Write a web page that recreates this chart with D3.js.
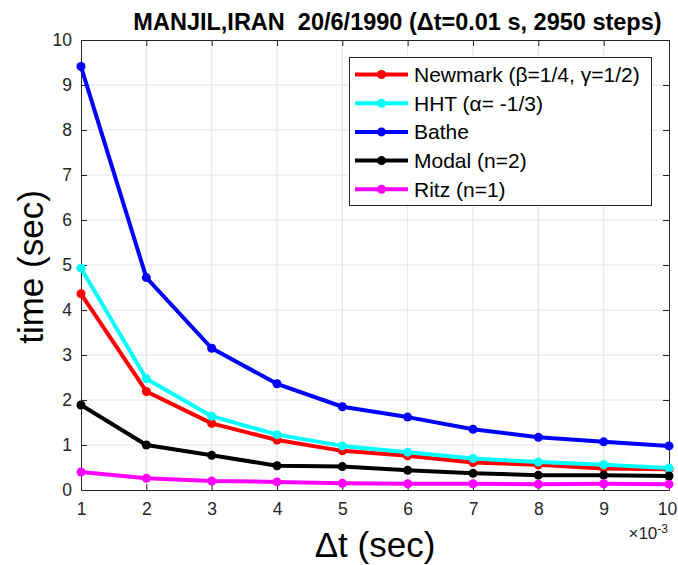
<!DOCTYPE html>
<html>
<head>
<meta charset="utf-8">
<script src="https://cdn.jsdelivr.net/npm/d3@7"></script>
<style>
  html, body { margin: 0; padding: 0; background: #fff; }
  svg { display: block; font-family: "Liberation Sans", Arial, Helvetica, sans-serif; }
</style>
</head>
<body>
<svg id="chart" width="678" height="565"></svg>
<script>
// Time step values (in units of 1e-3 s)
const dtSteps = [1, 2, 3, 4, 5, 6, 7, 8, 9, 10];

// Computation time (sec) for each integration method
const newmark = [4.36, 2.19, 1.48, 1.11, 0.87, 0.76, 0.61, 0.56, 0.48, 0.46];
const hht     = [4.93, 2.47, 1.64, 1.23, 0.98, 0.84, 0.70, 0.62, 0.56, 0.49];
const bathe   = [9.41, 4.72, 3.15, 2.36, 1.85, 1.62, 1.35, 1.17, 1.07, 0.98];
const modal   = [1.89, 1.00, 0.77, 0.54, 0.52, 0.44, 0.37, 0.33, 0.33, 0.31];
const ritz    = [0.40, 0.26, 0.20, 0.18, 0.15, 0.14, 0.14, 0.13, 0.14, 0.13];

const seriesNames  = ["Newmark (β=1/4, γ=1/2)", "HHT (α= -1/3)", "Bathe", "Modal (n=2)", "Ritz (n=1)"];
const seriesColors = ["#ff0000", "#00ffff", "#0000ff", "#000000", "#ff00ff"];
const seriesValues = [newmark, hht, bathe, modal, ritz];

const yTicks = [0, 1, 2, 3, 4, 5, 6, 7, 8, 9, 10];
const xTicks = [1, 2, 3, 4, 5, 6, 7, 8, 9, 10];

const svg = d3.select("#chart");
const plotL = 81, plotR = 669, plotT = 40, plotB = 490;

const x = d3.scaleLinear().domain([1, 10]).range([plotL, plotR]);
const y = d3.scaleLinear().domain([0, 10]).range([plotB, plotT]);

const axisColor = "#262626";

// Grid lines
const grid = svg.append("g");
grid.selectAll("line.gx").data(xTicks.slice(1, -1)).enter().append("line")
  .attr("x1", d => x(d)).attr("x2", d => x(d)).attr("y1", plotT).attr("y2", plotB)
  .attr("stroke", "#e3e3e3").attr("stroke-width", 1);
grid.selectAll("line.gy").data(yTicks.slice(1, -1)).enter().append("line")
  .attr("x1", plotL).attr("x2", plotR).attr("y1", d => y(d)).attr("y2", d => y(d))
  .attr("stroke", "#e3e3e3").attr("stroke-width", 1);

// Axes with inward ticks, mirrored on top and right
const tickLen = 6;
const axB = svg.append("g").attr("transform", `translate(0,${plotB})`)
  .call(d3.axisBottom(x).tickValues(xTicks).tickSizeInner(-tickLen).tickSizeOuter(0).tickPadding(13));
const axL = svg.append("g").attr("transform", `translate(${plotL},0)`)
  .call(d3.axisLeft(y).tickValues(yTicks).tickSizeInner(-tickLen).tickSizeOuter(0).tickPadding(9));
const axT = svg.append("g").attr("transform", `translate(0,${plotT})`)
  .call(d3.axisTop(x).tickValues(xTicks).tickSizeInner(-tickLen).tickSizeOuter(0).tickFormat(""));
const axR = svg.append("g").attr("transform", `translate(${plotR},0)`)
  .call(d3.axisRight(y).tickValues(yTicks).tickSizeInner(-tickLen).tickSizeOuter(0).tickFormat(""));

[axB, axL, axT, axR].forEach(a => {
  a.select(".domain").attr("stroke", axisColor).attr("stroke-width", 1);
  a.selectAll(".tick line").attr("stroke", axisColor);
  a.selectAll(".tick text").attr("fill", axisColor)
    .style("font-family", "'Liberation Sans', Arial, sans-serif").style("font-size", "17.5px");
});
// keep the last x label inside the canvas edge
axB.selectAll(".tick text").filter(d => d === 10).attr("dx", -2);

// Series lines and markers
const line = d3.line().x((d, i) => x(dtSteps[i])).y(d => y(d));
seriesValues.forEach((vals, k) => {
  const g = svg.append("g");
  g.append("path").datum(vals).attr("d", line)
    .attr("fill", "none").attr("stroke", seriesColors[k]).attr("stroke-width", 4)
    .attr("stroke-linejoin", "round");
  g.selectAll("circle").data(vals).enter().append("circle")
    .attr("cx", (d, i) => x(dtSteps[i])).attr("cy", d => y(d)).attr("r", 4.5)
    .attr("fill", seriesColors[k]);
});

// Legend
const lg = svg.append("g");
lg.append("rect").attr("x", 349.5).attr("y", 57.5).attr("width", 302).attr("height", 148)
  .attr("fill", "#fff").attr("stroke", axisColor).attr("stroke-width", 1);
seriesNames.forEach((name, k) => {
  const yy = 74.5 + k * 28.7;
  lg.append("line").attr("x1", 355).attr("x2", 408).attr("y1", yy).attr("y2", yy)
    .attr("stroke", seriesColors[k]).attr("stroke-width", 4);
  lg.append("circle").attr("cx", 381.5).attr("cy", yy).attr("r", 4.5).attr("fill", seriesColors[k]);
  lg.append("text").attr("x", 414).attr("y", yy).attr("dy", "0.36em")
    .style("font-size", "21px").attr("fill", "#000").text(name);
});

// Title
svg.append("text").attr("x", 397.5).attr("y", 30).attr("text-anchor", "middle")
  .style("font-weight", "bold").style("font-size", "23.5px").style("white-space", "pre")
  .attr("fill", "#000").text("MANJIL,IRAN  20/6/1990 (Δt=0.01 s, 2950 steps)");

// Axis labels
svg.append("text").attr("x", 375).attr("y", 557).attr("text-anchor", "middle")
  .style("font-size", "35px").attr("fill", "#000").text("Δt (sec)");
svg.append("text").attr("transform", "translate(43,267) rotate(-90)").attr("text-anchor", "middle")
  .style("font-size", "35px").attr("fill", "#000").text("time (sec)");

// Exponent marker for x axis
const ex = svg.append("text").attr("x", 668).attr("y", 539).attr("text-anchor", "end")
  .style("font-size", "17px").attr("fill", axisColor);
ex.append("tspan").text("×10");
ex.append("tspan").attr("dy", -6).style("font-size", "12px").text("-3");
</script>
</body>
</html>
